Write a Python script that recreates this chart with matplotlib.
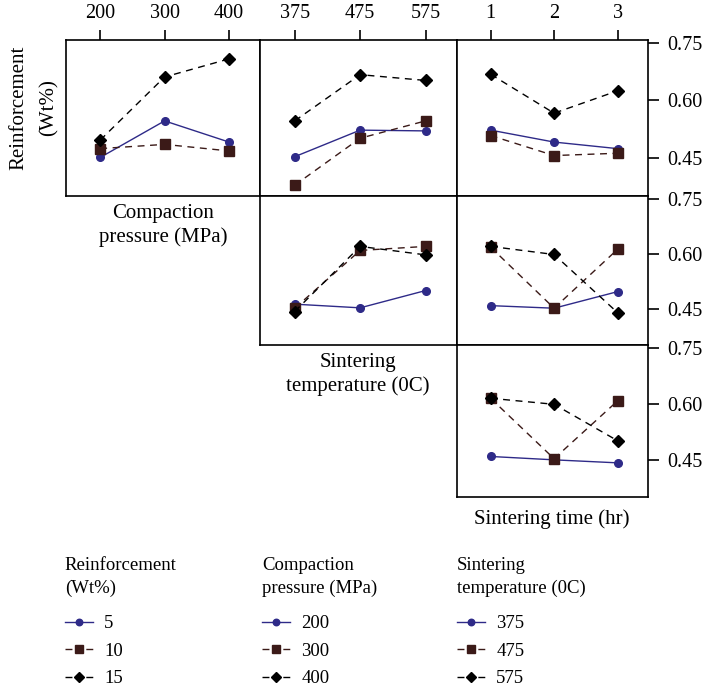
import matplotlib
matplotlib.use('Agg')
import matplotlib.pyplot as plt
from matplotlib.lines import Line2D

plt.rcParams['font.family'] = ['Liberation Serif', 'DejaVu Serif']
plt.rcParams['font.size'] = 13.5

# factor levels
reinf_levels = ['5', '10', '15']
pressure_levels = ['200', '300', '400']
temp_levels = ['375', '475', '575']
time_levels = ['1', '2', '3']

# mean responses, one row per level of the trace factor
reinf_vs_pressure = [[0.452, 0.547, 0.492], [0.475, 0.486, 0.469], [0.497, 0.661, 0.708]]
reinf_vs_temp = [[0.454, 0.523, 0.521], [0.380, 0.502, 0.547], [0.547, 0.667, 0.652]]
reinf_vs_time = [[0.523, 0.492, 0.475], [0.509, 0.457, 0.463], [0.668, 0.567, 0.625]]
press_vs_temp = [[0.463, 0.453, 0.500], [0.452, 0.609, 0.620], [0.443, 0.620, 0.597]]
press_vs_time = [[0.459, 0.452, 0.497], [0.618, 0.452, 0.612], [0.620, 0.598, 0.440]]
temp_vs_time = [[0.460, 0.451, 0.443], [0.615, 0.454, 0.608], [0.615, 0.599, 0.502]]

yticks = [0.45, 0.60, 0.75]

# styles for the three trace levels
styles = [
    dict(color='#2e2a88', marker='o', ls='-', lw=1.0, ms=5.5, mfc='#2e2a88', mec='#2e2a88'),
    dict(color='#3b1a18', marker='s', ls=(0, (5, 4)), lw=1.0, ms=6.5, mfc='#3b1a18', mec='#3b1a18'),
    dict(color='#000000', marker='D', ls=(0, (5, 4)), lw=1.0, ms=6, mfc='#000000', mec='#000000'),
]

W, H = 704, 690
fig = plt.figure(figsize=(W / 100, H / 100), dpi=100)

cols = [(66, 260), (260, 457), (457, 648)]
rows = [(40, 196), (196, 345), (345, 497)]


def make_ax(r, c):
    x0, x1 = cols[c]
    y0, y1 = rows[r]
    return fig.add_axes([x0 / W, 1 - y1 / H, (x1 - x0) / W, (y1 - y0) / H])


panels = [
    (0, 0, reinf_vs_pressure, pressure_levels),
    (0, 1, reinf_vs_temp, temp_levels),
    (0, 2, reinf_vs_time, time_levels),
    (1, 1, press_vs_temp, temp_levels),
    (1, 2, press_vs_time, time_levels),
    (2, 2, temp_vs_time, time_levels),
]

for r, c, data, xlabels in panels:
    ax = make_ax(r, c)
    xs = range(len(xlabels))
    for i, vals in enumerate(data):
        ax.plot(xs, vals, **styles[i])
    ax.set_xlim(-0.53, 2.48)
    ax.set_ylim(0.352, 0.757)
    for s in ax.spines.values():
        s.set_linewidth(1.2)
    ax.set_xticks(list(xs))
    ax.set_yticks(yticks)
    if r == 0:
        ax.xaxis.tick_top()
        ax.set_xticklabels(xlabels)
        ax.tick_params(axis='x', direction='out', length=7, width=1.2, pad=5, labelsize=14.5)
    else:
        ax.tick_params(axis='x', length=0, labelbottom=False, labeltop=False)
    if c == 2:
        ax.yaxis.tick_right()
        ax.set_yticklabels(['%.2f' % v for v in yticks])
        ax.tick_params(axis='y', direction='out', length=8, width=1.2, pad=6, labelsize=14.5)
    else:
        ax.tick_params(axis='y', length=0, labelleft=False, labelright=False)

# factor names
fig.text(163 / W, 1 - 204 / H, 'Compaction\npressure (MPa)', ha='center', va='top',
         multialignment='center', linespacing=1.3, fontsize=15)
fig.text(358 / W, 1 - 353 / H, 'Sintering\ntemperature (0C)', ha='center', va='top',
         multialignment='center', linespacing=1.3, fontsize=15)
fig.text(552 / W, 1 - 509 / H, 'Sintering time (hr)', ha='center', va='top', fontsize=15)
fig.text(34 / W, 1 - 108 / H, 'Reinforcement\n(Wt%)', ha='center', va='center',
         rotation=90, multialignment='center', linespacing=1.75, fontsize=15)

# legends
legend_sets = [
    ('Reinforcement\n(Wt%)', reinf_levels, 48),
    ('Compaction\npressure (MPa)', pressure_levels, 245),
    ('Sintering\ntemperature (0C)', temp_levels, 440),
]
for title, levels, x in legend_sets:
    handles = [Line2D([], [], **styles[i]) for i in range(3)]
    for h in handles[1:]:
        h.set_linestyle((0, (5, 10)))
    for h in handles:
        h.set_markersize(h.get_markersize() * 0.85)
    leg = fig.legend(handles, levels, title=title, loc='upper left',
                     bbox_to_anchor=(x / W, 1 - 540 / H), frameon=False,
                     handlelength=1.5, handletextpad=0.6, labelspacing=0.55,
                     borderpad=0.4, borderaxespad=0.5,
                     alignment='left', title_fontsize=13.5, fontsize=13.5)
    leg._legend_box.sep = 13
    leg.get_title().set_linespacing(1.45)

fig.savefig('out.png', dpi=100)
